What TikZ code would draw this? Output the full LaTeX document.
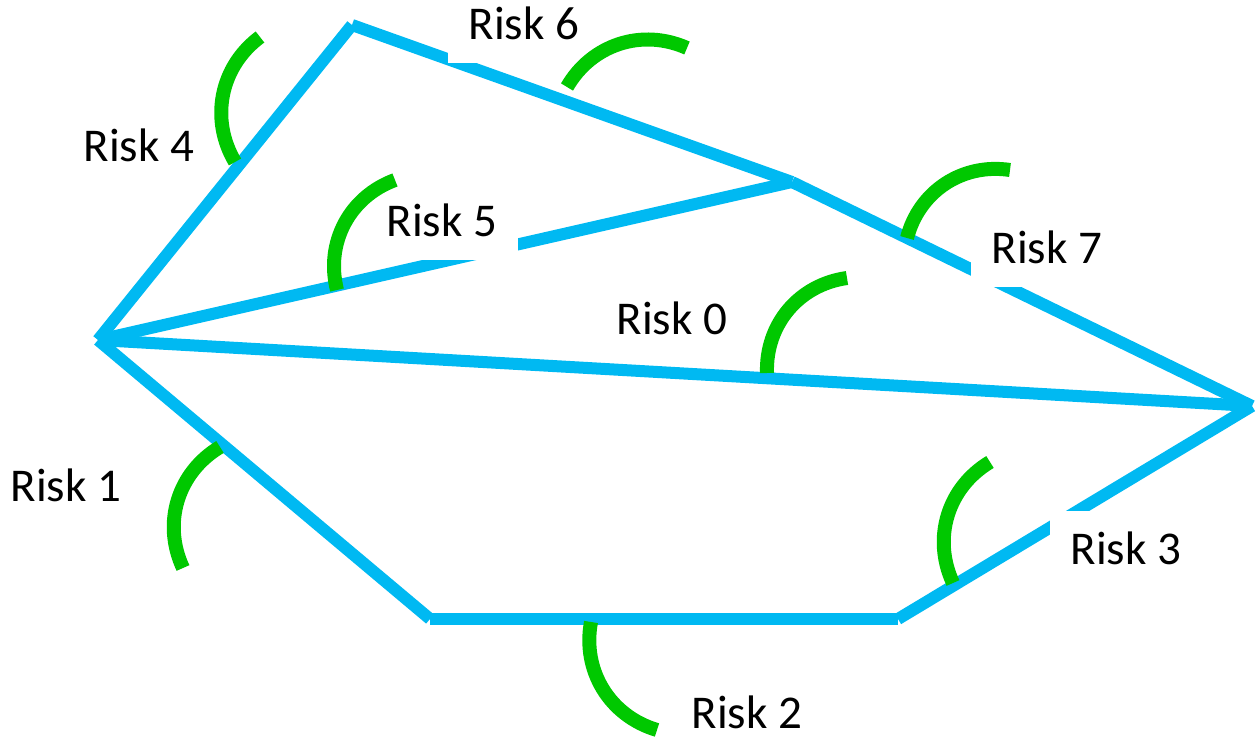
\documentclass[tikz,border=0pt]{standalone}
\usepackage{fontspec}
\setmainfont{Carlito}
\definecolor{lineblue}{HTML}{00B9F2}
\definecolor{riskgreen}{HTML}{00C800}
\begin{document}
\begin{tikzpicture}[x=1pt,y=1pt,
  edge/.style={draw=lineblue, line width=12pt, line cap=butt},
  riskarc/.style={draw=riskgreen, line width=14pt, line cap=butt},
  risklabel/.style={font=\fontsize{47}{56}\selectfont, inner xsep=20.5pt,
    inner ysep=2pt, text height=31pt, text depth=0pt, anchor=base west},
  cutout/.style={risklabel, inner ysep=23pt, fill=white}]
\useasboundingbox (0,0) rectangle (1256,737);

% corners of the network
\coordinate (L)  at (98,397);
\coordinate (T)  at (352,712);
\coordinate (M)  at (792,555);
\coordinate (R)  at (1252,331);
\coordinate (BL) at (430,118);
\coordinate (BR) at (898,118);

% blue links
\draw[edge] (L) -- (T);
\draw[edge] (T) -- (M);
\draw[edge] (L) -- (M);
\draw[edge] (M) -- (R);
\draw[edge] (L) -- (R);
\draw[edge] (L) -- (BL);
\draw[edge] (BL) -- (BR);
\draw[edge] (BR) -- (R);

% labels (boxed ones mask the links beneath them)
\node[risklabel] (r0) at (596,402) {Risk 0};
\node[risklabel] (r1) at (-10,235) {Risk 1};
\node[risklabel] (r2) at (671,9)   {Risk 2};
\node[cutout]    (r3) at (1050,172) {Risk 3};
\node[risklabel] (r4) at (63,575)  {Risk 4};
\node[cutout]    (r5) at (366,500) {Risk 5};
\node[cutout]    (r6) at (448,697) {Risk 6};
\node[cutout]    (r7) at (971,473) {Risk 7};

% green risk arcs
\coordinate (a0s) at (767,364);  \coordinate (a0e) at (847,459);
\coordinate (a1s) at (183,169);  \coordinate (a1e) at (220,290);
\coordinate (a2s) at (657,7);    \coordinate (a2e) at (591,115);
\coordinate (a3s) at (953,154);  \coordinate (a3e) at (990,275);
\coordinate (a4s) at (235,575);  \coordinate (a4e) at (260,700);
\coordinate (a5s) at (337,447);  \coordinate (a5e) at (395,557);
\coordinate (a6s) at (567,650);  \coordinate (a6e) at (687,689);
\coordinate (a7s) at (907,499);  \coordinate (a7e) at (1010,567);
\foreach \k in {0,...,7}
  \draw[riskarc] (a\k s) to[bend left=42] (a\k e);
\end{tikzpicture}
\end{document}
